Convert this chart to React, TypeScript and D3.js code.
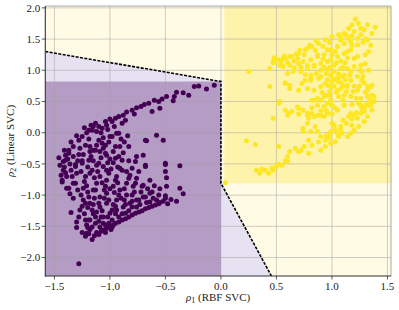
import React from "react";
import * as d3 from "d3";

// ---- Data (ρ1 = RBF SVC score, ρ2 = Linear SVC score) ----
const class0Points: [number, number][] = [
  [-0.06,0.76],[-0.13,0.70],[-0.20,0.75],[-0.24,0.74],[-0.29,0.60],[-0.34,0.64],[-0.40,0.65],[-0.42,0.58],[-0.43,0.51],[-0.49,0.58],
  [-0.53,0.54],[-0.56,0.50],[-0.55,0.39],[-0.62,0.34],[-0.69,0.45],[-0.76,0.40],[-0.80,0.36],[-0.85,0.33],[-0.88,0.28],[-0.92,0.26],
  [-0.95,0.23],[-0.98,0.18],[-1.03,0.12],[-1.07,0.07],[-1.16,0.04],[-1.21,0.00],[-1.25,-0.06],[-1.28,-0.12],[-1.33,-0.22],[-1.37,-0.28],
  [-1.40,-0.36],[-1.42,-0.46],
  [-0.58,-0.04],[-0.67,-0.13],[-0.52,-0.12],[-0.37,-0.53],[-0.50,-0.51],[-0.50,-0.62],[-0.68,-0.54],[-0.70,-0.36],[-0.76,-0.38],[-0.83,-0.22],
  [-0.91,-0.22],[-0.89,0.15],[-0.94,-0.01],[-1.00,-0.06],[-1.04,-0.20],[-1.10,-0.12],[-1.15,-0.28],[-1.18,-0.22],[-0.83,-0.45],[-0.89,-0.44],
  [-0.95,-0.41],[-1.03,-0.36],[-1.06,-0.54],[-0.91,-0.57],[-0.85,-0.62],[-1.25,-0.45],[-1.31,-0.51],[-1.12,-0.52],
  [-0.49,-0.72],[-0.49,-0.86],[-0.37,-0.89],[-0.34,-0.98],[-0.40,-1.10],[-0.48,-1.14],[-0.50,-1.01],[-0.55,-1.12],[-0.59,-1.16],[-0.65,-1.20],
  [-0.71,-1.25],[-0.77,-1.29],[-0.83,-1.35],[-0.89,-1.40],[-0.95,-1.45],[-1.00,-1.51],[-1.06,-1.56],[-1.12,-1.60],[-1.16,-1.71],[-1.21,-1.61],
  [-1.25,-1.60],[-1.30,-1.43],[-1.27,-1.24],[-1.28,-2.10],[-1.39,-0.89],[-1.43,-0.76],[-1.40,-0.64],[-1.33,-0.81],[-1.24,-0.89],[-1.24,-1.08],
  [-1.18,-1.13],[-1.15,-0.92],[-1.09,-1.03],[-1.03,-1.13],[-1.00,-1.29],[-1.06,-1.35],[-1.18,-1.40],[-1.16,-1.51],[-1.21,-1.48],[-0.94,-1.24],
  [-0.88,-1.19],[-0.82,-1.13],[-0.76,-1.08],[-0.70,-1.03],[-0.64,-0.97],[-0.58,-1.08],[-0.79,-0.86],[-0.70,-0.84],[-0.85,-0.81],[-0.91,-0.92],
  [-0.97,-0.86],[-1.03,-0.76],[-1.09,-0.70],[-1.18,-0.65],[-0.94,-0.70],[-0.82,-0.68],[-0.76,-0.73],[-0.64,-0.76],[-0.85,-1.00],[-0.94,-1.08],
  [-1.03,-0.97],[-1.12,-0.81],[-1.09,-1.19],[-1.12,-1.27],[-0.76,-1.19],[-0.64,-1.11],[-0.92,-1.35],[-0.98,-1.40],[-1.13,-1.45],[-1.09,-1.51],
  [-1.04,0.18],[-1.10,0.10],[-1.19,0.04],[-1.37,-0.33],[-1.40,-0.44],[-1.42,-0.60],[-1.43,-0.79],[-1.37,-0.89],[-1.31,-0.81],[-1.22,-0.70],
  [-1.16,-0.60],[-1.10,-0.49],[-1.19,-0.44],[-1.25,-0.49],[-1.31,-0.54],[-1.34,-0.70],[-1.13,-0.28],[-1.07,-0.17],[-1.04,-0.33],[-0.98,-0.06],
  [-0.92,-0.01],[-0.95,-0.22],[-0.92,-0.38],[-1.01,-0.65],[-0.95,-0.76],[-0.89,-0.60],[-0.83,-0.73],[-0.77,-0.81],[-0.71,-0.86],[-1.04,-0.86],
  [-1.13,-0.92],[-1.19,-1.03],[-1.22,-1.13],[-1.16,-1.24],[-1.10,-1.13],[-1.01,-1.08],[-0.98,-1.24],[-0.86,-1.29],[-0.80,-1.19],[-0.74,-1.08],
  [-0.68,-1.03],[-0.62,-0.95],[-0.56,-1.00],[-0.68,-0.52],[-0.77,-0.46],[-0.68,-0.12],[-0.50,-0.49],[-0.50,-1.05],[-1.19,-1.40],[-1.04,-1.48],
  [-0.98,-1.51],
  [-1.45,-0.52],[-1.44,-0.68],[-1.38,-0.42],[-1.35,-0.60],[-1.28,-0.35],[-1.26,-0.62],[-1.23,-0.78],[-1.20,-0.55],[-1.17,-0.38],[-1.14,-0.72],
  [-1.11,-0.62],[-1.08,-0.40],[-1.06,-0.25],[-1.02,-0.48],[-0.99,-0.58],[-0.97,-0.30],[-0.96,-0.96],[-0.93,-0.80],[-0.90,-1.05],[-0.87,-0.90],
  [-0.86,-1.15],[-0.80,-1.00],[-0.78,-0.95],[-0.73,-1.15],[-0.67,-1.12],[-0.61,-1.05],[-0.55,-0.90],[-1.20,-0.95],[-1.26,-1.00],[-1.29,-0.92],
  [-1.14,-1.05],[-1.05,-0.92],[-1.07,-1.25],[-1.02,-1.35],[-1.13,-1.35],[-1.18,-1.55],[-1.10,-1.42],[-0.95,-1.30],[-0.89,-1.30],[-1.23,-1.30],
  [-1.20,-1.20],[-1.33,-1.05],[-1.36,-0.98],[-1.15,0.10],[-1.12,0.02],[-1.08,0.00],[-1.02,0.05],[-1.19,-0.10],[-1.22,-0.20],[-1.29,-0.45],
  [-1.01,-0.15],[-0.86,0.20],[-0.84,-0.05],[-0.78,0.30],[-0.72,0.42],[-0.65,0.47],[-0.60,0.52],[-0.88,-0.32],[-0.80,-0.57],[-0.74,-0.62],
  [-0.97,-1.15],[-1.01,-1.45],[-0.83,-1.25],
  [-1.14,-1.65],[-1.08,-1.58],[-1.03,-1.53],[-0.97,-1.48],[-0.92,-1.43],[-0.86,-1.38],[-0.80,-1.32],[-0.74,-1.27],[-0.68,-1.22],[-0.62,-1.18],
  [-0.56,-1.14],[-0.52,-1.10],[-0.45,-1.07],[-1.10,-1.63],[-1.04,-1.60],[-0.99,-1.55],[-1.22,-1.66],[-1.19,-1.62],
  [-1.46,-0.40],[-1.41,-0.55],[-1.39,-0.70],[-1.36,-0.50],[-1.33,-0.38],[-1.30,-0.65],[-1.27,-0.25],[-1.24,-0.35],[-1.21,-0.85],[-1.18,-0.30],
  [-1.15,-0.45],[-1.12,-0.20],[-1.09,-0.30],[-1.06,-0.08],[-1.03,-0.60],[-1.00,-0.42],[-0.97,-0.48],[-0.93,-0.55],[-0.90,-0.10],[-0.87,-0.15],
  [-1.30,-0.05],[-1.23,0.08],[-1.17,0.12],[-1.13,0.15],[-1.00,0.22],[-0.96,0.10],[-1.35,-0.15],[-1.41,-0.28],
  [-1.07,-0.80],[-1.00,-0.90],[-0.92,-1.00],[-0.87,-1.08],[-0.95,-1.18],[-1.05,-1.05],[-1.15,-1.15],[-1.25,-1.18],[-1.28,-1.35],[-1.22,-1.40],
  [-1.15,-1.30],[-1.08,-1.35],[-0.80,-1.10],[-0.72,-0.95],[-0.66,-0.90],[-0.60,-0.85],[-1.30,-1.52],[-1.20,-1.52],[-1.06,-1.45],[-1.35,-1.28]
];

const class1Points: [number, number][] = [
  [0.25,0.98],[0.44,0.74],[0.44,1.03],[0.47,1.12],[0.52,1.17],[0.58,1.19],[0.64,1.22],[0.70,1.27],[0.76,1.33],[0.82,1.38],
  [0.88,1.43],[0.94,1.49],[1.00,1.54],[1.06,1.57],[1.11,1.59],[1.15,1.67],[1.18,1.73],[1.21,1.82],[1.24,1.75],[1.32,1.73],
  [1.39,1.69],[1.36,1.59],[1.30,1.50],[1.23,1.51],[1.33,1.30],[1.30,1.11],[1.27,0.98],[1.32,0.74],[1.36,0.76],[1.38,0.58],
  [1.35,0.50],[1.23,0.68],[1.17,0.84],[1.14,0.74],[1.09,0.90],[1.05,0.82],[1.05,0.68],[1.06,0.58],[0.99,0.52],[0.94,0.60],
  [0.90,0.52],[0.84,0.52],[0.81,0.84],[0.88,0.87],[0.94,0.79],[0.99,0.74],[0.96,1.00],[0.90,1.00],[0.84,1.06],[0.78,1.08],
  [0.72,0.98],[0.76,0.84],[0.81,0.92],[0.65,0.98],[0.60,0.95],[0.58,0.79],[0.62,0.71],[0.70,0.68],[0.52,0.47],[0.70,1.11],
  [0.62,1.08],[0.56,1.06],[0.99,1.17],[1.05,1.22],[1.11,1.27],[1.17,1.33],[1.23,1.22],[1.20,1.06],[1.14,1.03],[1.23,0.90],
  [1.27,0.84],[1.11,1.43],[1.17,1.46],[1.05,1.38],[0.99,1.33],[0.93,1.25],[0.87,1.22],[0.81,1.17],[1.26,1.57],[1.29,1.65],
  [1.20,1.62],
  [0.04,-0.80],[0.32,-0.60],[0.35,-0.65],[0.40,-0.60],[0.46,-0.57],[0.50,-0.54],[0.55,-0.52],[0.60,-0.38],[0.62,-0.30],[0.72,-0.28],
  [0.79,-0.33],[0.90,-0.28],[0.94,-0.22],[0.99,-0.17],[1.03,-0.14],[1.06,-0.06],[1.09,-0.01],[0.94,-0.12],[0.90,-0.06],[0.87,0.02],
  [0.81,0.02],[0.79,-0.12],[0.74,0.07],[0.78,0.15],[0.85,0.10],[0.99,0.02],[1.02,0.12],[0.23,-0.13],[0.31,-0.19],[0.52,-0.22],
  [0.47,0.23],[0.53,0.50],[0.60,0.28],[0.64,0.34],[0.69,0.41],[0.78,0.31],[0.79,0.23],[0.84,0.26],[0.90,0.28],[0.96,0.31],
  [0.87,0.44],[0.96,0.47],[1.03,0.39],[1.15,0.26],[1.20,0.28],[1.23,0.23],[1.26,0.31],[1.29,0.39],[1.33,0.44],[1.36,0.36],
  [1.32,0.26],[1.29,0.18],[1.24,0.10],[1.20,0.04],[1.17,-0.01],[1.14,-0.06],[1.24,0.47],[1.38,0.50],[0.70,-0.30],[0.60,-0.46],
  [0.43,-0.65],[0.47,-0.60],[1.05,-0.01],[0.97,-0.09],
  [0.58,0.36],[0.61,0.31],[0.70,0.39],[0.58,0.80],
  [0.47,1.14],[0.62,0.76],[0.74,0.36],[0.78,0.28],[0.82,0.31],[0.87,0.28],[0.93,0.26],[1.00,0.15],[0.74,0.02],[0.82,0.52],
  [0.87,0.55],[0.93,0.58],[0.97,0.60],[1.11,0.60],[1.17,0.58],[1.26,0.55],[1.32,0.58],[1.36,0.60],[1.35,0.44],[1.29,0.34],
  [1.18,0.12],[1.26,0.44],[1.17,0.31],[1.35,0.74],[1.32,0.68],[1.14,0.76],[1.08,0.71],[1.02,0.74],[0.96,0.76],[0.90,0.74],
  [0.84,0.68],[0.78,0.71],[0.73,0.79],[0.81,0.87],[0.90,0.90],[0.99,0.92],[1.05,0.87],[1.11,0.92],[1.17,0.98],[1.08,1.03],
  [1.02,1.08],[0.96,1.14],[0.90,1.11],[0.84,1.08],[0.78,1.03],[0.74,1.14],[0.69,1.19],[0.62,1.22],[0.56,1.19],[0.50,1.17],
  [0.87,1.25],[0.96,1.33],[1.05,1.38],[1.14,1.30],[1.20,1.19],[1.26,1.08],[1.23,1.41],[1.15,1.51],[1.26,1.67],[1.32,1.49],
  [1.00,0.44],[0.93,0.42],[1.05,0.36],[1.11,0.44],
  [1.00,1.25],[1.08,1.15],[1.12,1.12],[1.02,0.98],[0.93,1.05],[1.00,0.82],[1.08,0.80],[1.13,0.66],[0.98,0.66],[0.91,0.65],
  [1.16,0.92],[1.20,0.75],[1.22,0.55],[1.18,0.45],[1.10,0.52],[0.75,1.25],[0.66,1.15],[0.60,1.12],[0.54,1.13],[0.71,1.32],
  [0.80,1.40],[0.92,1.38],[1.08,1.48],[1.13,1.56],[0.95,0.35],[1.30,0.65],[1.28,0.90],[1.33,1.00],[1.10,0.20],[1.08,0.05],
  [0.98,-0.02],[0.67,-0.25],
  [0.85,1.32],[0.92,1.18],[0.98,1.05],[1.04,1.12],[1.10,1.05],[1.14,1.20],[1.18,1.40],[1.03,1.30],[0.95,0.95],[1.06,0.94],
  [1.12,0.85],[1.02,0.86],[0.96,0.85],[1.10,0.75],[1.04,0.65],[1.19,0.66],[1.25,0.75],[1.29,0.80],[1.25,1.00],[1.30,1.25],
  [1.35,1.40],[1.28,1.45],[1.18,1.55],[1.08,1.52],[0.98,1.45],[0.86,1.47],[0.78,1.35],[0.68,1.26],[0.57,1.23],[0.48,1.20],
  [0.53,1.08],[0.66,1.04],[0.72,1.05],[0.86,0.95],[0.76,0.93],
  [1.34,0.52],[1.31,0.45],[1.27,0.38],[1.22,0.32],[1.18,0.22],[1.13,0.15],[1.08,0.10],[1.03,0.05],[0.95,-0.05],[0.88,-0.15],
  [0.82,-0.20],[0.75,-0.22],[0.58,-0.45],[0.52,-0.50],[0.37,-0.58],[0.70,0.30],[0.82,0.40],[0.90,0.35],[1.00,0.30]
];

// Decision boundary (dashed) vertices and decision regions
const xDomain: [number, number] = [-1.582, 1.532];
const yDomain: [number, number] = [-2.296, 2.03];
const boundaryPath: [number, number][] = [
  [-1.582, 1.30], [0.0, 0.82], [0.0, -0.81], [0.455, -2.296]
];
const purpleRect = { x0: -1.582, x1: 0.0, y0: -2.296, y1: 0.82 };
const yellowRect = { x0: 0.03, x1: 1.532, y0: -0.81, y1: 2.03 };

const xTicks = [-1.5, -1.0, -0.5, 0.0, 0.5, 1.0, 1.5];
const yTicks = [-2.0, -1.5, -1.0, -0.5, 0.0, 0.5, 1.0, 1.5, 2.0];

const W = 399, H = 310;
const M = { left: 45.3, right: 391, top: 6, bottom: 276 };

const fmt = (v: number) => (v < 0 ? "\u2212" : "") + Math.abs(v).toFixed(1);

export default function App() {
  const x = d3.scaleLinear().domain(xDomain).range([M.left, M.right]);
  const y = d3.scaleLinear().domain(yDomain).range([M.bottom, M.top]);
  const line = d3.line<[number, number]>().x(d => x(d[0])).y(d => y(d[1]));

  const lavender: [number, number][] = [
    ...boundaryPath,
    [xDomain[0], yDomain[0]],
  ];

  const font = "'Liberation Serif', 'Times New Roman', serif";

  return (
    <svg width={W} height={H} style={{ position: "absolute", left: 0, top: 0 }} fontFamily={font}>
      <defs>
        <clipPath id="plotclip">
          <rect x={M.left} y={M.top} width={M.right - M.left} height={M.bottom - M.top} />
        </clipPath>
      </defs>
      <rect x={0} y={0} width={W} height={H} fill="#ffffff" />
      <g clipPath="url(#plotclip)">
        <rect x={M.left} y={M.top} width={M.right - M.left} height={M.bottom - M.top} fill="#fffbe4" />
        <path d={line(lavender) + "Z"} fill="#e7e2f2" />
        <rect x={x(purpleRect.x0)} y={y(purpleRect.y1)} width={x(purpleRect.x1) - x(purpleRect.x0)}
          height={y(purpleRect.y0) - y(purpleRect.y1)} fill="#b59cc5" />
        <rect x={x(yellowRect.x0)} y={y(yellowRect.y1)} width={x(yellowRect.x1) - x(yellowRect.x0)}
          height={y(yellowRect.y0) - y(yellowRect.y1)} fill="#fef3aa" />
        {xTicks.map(t => (
          <line key={"gx" + t} x1={x(t)} x2={x(t)} y1={M.top} y2={M.bottom} stroke="#a0a0a0" strokeOpacity={0.55} strokeWidth={0.9} />
        ))}
        {yTicks.map(t => (
          <line key={"gy" + t} x1={M.left} x2={M.right} y1={y(t)} y2={y(t)} stroke="#a0a0a0" strokeOpacity={0.55} strokeWidth={0.9} />
        ))}
        <path d={line(boundaryPath) ?? ""} fill="none" stroke="#000" strokeWidth={1.6} strokeDasharray="3,1.4" />
        {class0Points.map((p, i) => (
          <circle key={"a" + i} cx={x(p[0])} cy={y(p[1])} r={2.5} fill="#440154" />
        ))}
        {class1Points.map((p, i) => (
          <circle key={"b" + i} cx={x(p[0])} cy={y(p[1])} r={2.5} fill="#fde725" />
        ))}
      </g>
      {/* spines */}
      <line x1={M.left} x2={M.right} y1={M.top} y2={M.top} stroke="#a8a8a8" strokeWidth={1} />
      <line x1={M.right} x2={M.right} y1={M.top} y2={M.bottom} stroke="#a8a8a8" strokeWidth={1} />
      <line x1={M.left} x2={M.left} y1={M.top} y2={M.bottom + 0.5} stroke="#333" strokeWidth={1.1} />
      <line x1={M.left - 0.5} x2={M.right} y1={M.bottom} y2={M.bottom} stroke="#333" strokeWidth={1.1} />
      {/* ticks */}
      {xTicks.map(t => (
        <g key={"tx" + t}>
          <line x1={x(t)} x2={x(t)} y1={M.bottom} y2={M.bottom + 3.5} stroke="#333" strokeWidth={0.8} />
          <text x={x(t)} y={M.bottom + 14} fontSize={11} textAnchor="middle" fill="#222">{fmt(t)}</text>
        </g>
      ))}
      {yTicks.map(t => (
        <g key={"ty" + t}>
          <line x1={M.left - 3.5} x2={M.left} y1={y(t)} y2={y(t)} stroke="#333" strokeWidth={0.8} />
          <text x={M.left - 5} y={y(t) + 3.8} fontSize={11} textAnchor="end" fill="#222">{fmt(t)}</text>
        </g>
      ))}
      {/* axis labels */}
      <text x={(M.left + M.right) / 2} y={301} fontSize={11} textAnchor="middle" fill="#222">
        <tspan fontStyle="italic">ρ</tspan><tspan fontSize={8} dy={2}>1</tspan><tspan dy={-2}> (RBF SVC)</tspan>
      </text>
      <text transform={`translate(14, ${(M.top + M.bottom) / 2}) rotate(-90)`} fontSize={11} textAnchor="middle" fill="#222">
        <tspan fontStyle="italic">ρ</tspan><tspan fontSize={8} dy={2}>2</tspan><tspan dy={-2}> (Linear SVC)</tspan>
      </text>
    </svg>
  );
}
